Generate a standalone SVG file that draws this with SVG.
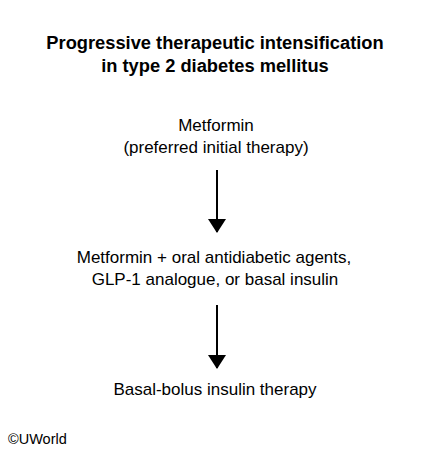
<svg xmlns="http://www.w3.org/2000/svg" width="433" height="454" viewBox="0 0 433 454">
<style>
.t{font-family:"Liberation Sans",Arial,sans-serif;font-size:18.3px;font-weight:bold;fill:#000;text-anchor:middle}
.n{font-family:"Liberation Sans",Arial,sans-serif;font-size:17px;fill:#000;text-anchor:middle}
.c{font-family:"Liberation Sans",Arial,sans-serif;font-size:14.5px;fill:#000}
.e{stroke:#000;stroke-width:2;fill:none}
</style>
<defs>
<marker id="ah" markerWidth="7" markerHeight="9" refX="6.5" refY="4.5" orient="auto" markerUnits="strokeWidth" viewBox="0 0 7 9">
<path d="M0,0 L7,4.5 L0,9 z" fill="#000"/>
</marker>
</defs>
<rect width="433" height="454" fill="#fff"/>
<g id="title">
<text class="t" x="215" y="49">Progressive therapeutic intensification</text>
<text class="t" x="215" y="72">in type 2 diabetes mellitus</text>
</g>
<g id="node1">
<text class="n" x="216" y="131">Metformin</text>
<text class="n" x="216" y="153">(preferred initial therapy)</text>
</g>
<g id="node2">
<text class="n" x="214" y="263">Metformin + oral antidiabetic agents,</text>
<text class="n" x="215" y="285">GLP-1 analogue, or basal insulin</text>
</g>
<g id="node3">
<text class="n" x="215" y="395">Basal-bolus insulin therapy</text>
</g>
<g id="connectors">
<line class="e" x1="217" y1="170" x2="217" y2="232" marker-end="url(#ah)"/>
<line class="e" x1="217" y1="305" x2="217" y2="368" marker-end="url(#ah)"/>
</g>
<g id="copyright">
<text class="c" x="8" y="444">©UWorld</text>
</g>
</svg>
